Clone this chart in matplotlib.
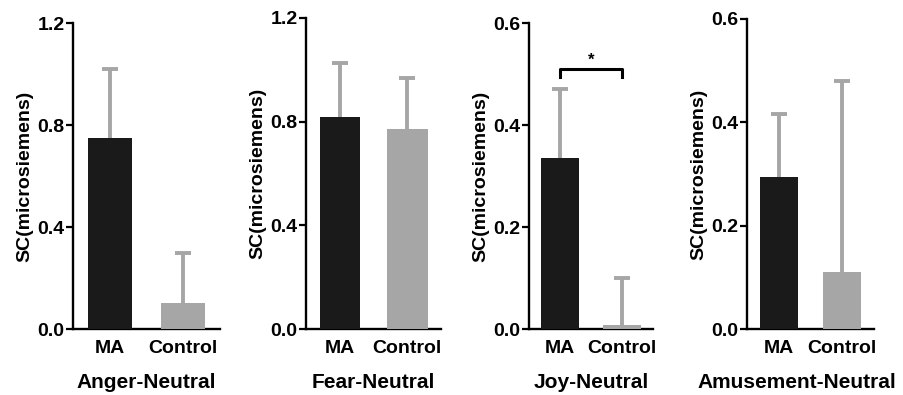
import matplotlib
matplotlib.use("Agg")
import matplotlib.pyplot as plt

plt.rcParams['font.family'] = ['Liberation Sans', 'DejaVu Sans']
plt.rcParams['font.weight'] = 'bold'

groups = ["MA", "Control"]
conditions = ["Anger-Neutral", "Fear-Neutral", "Joy-Neutral", "Amusement-Neutral"]
means = [[0.749, 0.102], [0.818, 0.772], [0.335, 0.007], [0.294, 0.111]]
errors = [[0.271, 0.196], [0.208, 0.196], [0.135, 0.093], [0.122, 0.369]]
ymax = [1.2, 1.2, 0.6, 0.6]
yticks = [[0.0, 0.4, 0.8, 1.2], [0.0, 0.4, 0.8, 1.2], [0.0, 0.2, 0.4, 0.6], [0.0, 0.2, 0.4, 0.6]]
sig_panel = 2
sig_level = 0.51
sig_text = "*"

bar_colors = ["#1a1a1a", "#a6a6a6"]
err_color = "#a6a6a6"

W, H = 904, 395
fig = plt.figure(figsize=(W / 100, H / 100), dpi=100)
# left px, right px, top px, bottom px
boxes = [(73, 220, 23, 329), (306, 441, 18, 329), (529, 653, 23, 329), (747, 874, 19, 329)]
xlabel_x = [0.5, 0.5, 0.5, 0.39]

for i, (l, r, t, b) in enumerate(boxes):
    ax = fig.add_axes([l / W, (H - b) / H, (r - l) / W, (b - t) / H])
    x = [0, 1]
    ax.bar(x, means[i], width=0.6, color=bar_colors, edgecolor='none', zorder=3)
    eb = ax.errorbar(x, means[i], yerr=[[0, 0], errors[i]], fmt='none', ecolor=err_color,
                     elinewidth=2.8, capsize=5.5, capthick=2.8, zorder=2)
    eb[1][0].set_visible(False)
    ax.set_xlim(-0.5, 1.5)
    ax.set_ylim(0, ymax[i])
    ax.set_yticks(yticks[i])
    ax.set_yticklabels([f"{v:.1f}" for v in yticks[i]], fontsize=14, fontweight='bold')
    ax.set_xticks(x)
    ax.set_xticklabels(groups, fontsize=14, fontweight='bold')
    ax.tick_params(axis='x', length=0, pad=8)
    ax.tick_params(axis='y', length=5, width=1.6, pad=1)
    for s in ['top', 'right']:
        ax.spines[s].set_visible(False)
    for s in ['left', 'bottom']:
        ax.spines[s].set_linewidth(1.7)
    ax.set_ylabel("SC(microsiemens)", fontsize=14, fontweight='bold', labelpad=3)
    ax.set_xlabel(conditions[i], fontsize=15, fontweight='bold')
    ax.xaxis.set_label_coords(xlabel_x[i], -53.0 / (b - t))
    ax.xaxis.label.set_va('center')
    if i == sig_panel:
        leg = 0.016
        ax.plot([0, 0, 1, 1], [sig_level - leg, sig_level, sig_level, sig_level - leg],
                color='black', lw=2.2, clip_on=False, zorder=4)
        ax.text(0.5, sig_level + 0.002, sig_text, ha='center', va='bottom', fontsize=12,
                fontweight='bold')

fig.savefig("out.png", dpi=100)
